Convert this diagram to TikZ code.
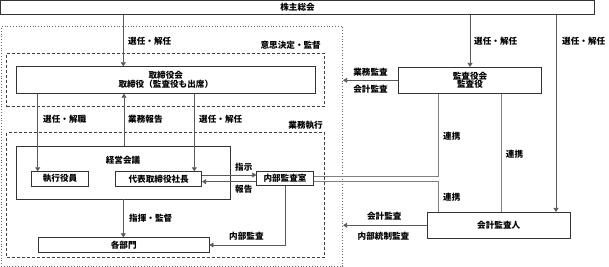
\documentclass[tikz,border=0pt]{standalone}
\usepackage{fontspec}
\setmainfont{Noto Sans CJK JP}
\usetikzlibrary{arrows.meta}
\newcommand{\fs}{\fontsize{8.6}{10}\selectfont\bfseries}
\begin{document}
\begin{tikzpicture}[x=1pt,y=-1pt,
  box/.style={draw=black!80, line width=0.8pt, inner sep=0pt, font=\fs, align=center},
  conn/.style={draw=black!65, line width=0.8pt},
  arr/.style={conn, -{Triangle[length=4pt,width=5pt]}},
  link/.style={draw=black!50, line width=0.8pt},
  lbl/.style={inner sep=0pt, font=\fs},
  dotbox/.style={draw=black!60, line width=0.8pt, dotted, inner sep=0pt},
  dashbox/.style={draw=black!75, line width=0.8pt, dash pattern=on 3pt off 2pt, inner sep=0pt}]
\useasboundingbox (0,0) rectangle (609,267);
% containers
\node[dotbox, minimum width=341.7pt, minimum height=239.3pt] (outer) at (171.85,146.35) {};
\node[dashbox, minimum width=317.6pt, minimum height=53.4pt] (ishi) at (165.5,80) {};
\node[dashbox, minimum width=317.6pt, minimum height=124.6pt] (gyomu) at (165.5,195) {};
% boxes
\node[box, minimum width=594pt, minimum height=14pt] (soukai) at (297.5,7.6) {株主総会};
\node[box, minimum width=298.3pt, minimum height=26.6pt] (torishimari) at (165.8,80) {取締役会\\[-1.5pt]取締役（監査役も出席）};
\node[box, minimum width=143.4pt, minimum height=26pt] (kansayaku) at (470,80.3) {監査役会\\[-1.5pt]監査役};
\node[box, minimum width=213.3pt, minimum height=53pt] (keiei) at (123.35,172.5) {};
\node[lbl] (keieilbl) at (123,160) {経営会議};
\node[box, minimum width=56.6pt, minimum height=14.3pt] (shikkou) at (60,178.8) {執行役員};
\node[box, minimum width=86pt, minimum height=14.3pt] (daihyo) at (158.7,178.8) {代表取締役社長};
\node[box, minimum width=56.6pt, minimum height=14pt] (naibu) at (285,178.7) {内部監査室};
\node[box, minimum width=170.7pt, minimum height=14.6pt] (kakubumon) at (123.7,245) {各部門};
\node[box, minimum width=142.7pt, minimum height=26pt] (kaikei) at (498.7,225.3) {会計監査人};
% helper coordinates
\coordinate (xa) at (123.3,0);
\coordinate (xk) at (556,0);
\coordinate (xs) at (37.7,0);
\coordinate (xg) at (124,0);
\coordinate (xd) at (194.3,0);
\coordinate (yi) at (0,175);
\coordinate (yh) at (0,181.7);
\coordinate (xr) at (438.5,0);
\coordinate (yr1) at (0,176);
\coordinate (yr2) at (0,181.7);
\coordinate (xr2) at (501,0);
% connectors
\draw[arr] (soukai.south -| xa) -- (torishimari.north -| xa);
\draw[arr] (soukai.south -| kansayaku.north) -- (kansayaku.north);
\draw[arr] (soukai.south -| xk) -- (kaikei.north -| xk);
\draw[arr] (kansayaku.west) -- (kansayaku.west -| outer.east);
\draw[arr] (kaikei.west) -- (kaikei.west -| outer.east);
\draw[arr] (torishimari.south -| xs) -- (shikkou.north -| xs);
\draw[arr] (keiei.north -| xg) -- (torishimari.south -| xg);
\draw[arr] (torishimari.south -| xd) -- (daihyo.north -| xd);
\draw[arr] (daihyo.east |- yi) -- (naibu.west |- yi);
\draw[arr] (naibu.west |- yh) -- (daihyo.east |- yh);
\draw[arr] (keiei.south -| xa) -- (kakubumon.north -| xa);
\draw[arr] (naibu.south) |- (kakubumon.east);
\draw[link] (kansayaku.south -| xr) -- (xr |- yr1) -- (naibu.east |- yr1);
\draw[link] (naibu.east |- yr2) -- (xr |- yr2) -- (kaikei.north -| xr);
\draw[link] (kansayaku.south -| xr2) -- (kaikei.north -| xr2);
% labels
\node[lbl, anchor=west] (l1) at (128,41.7) {選任・解任};
\node[lbl, anchor=west] (l2) at (474,41.7) {選任・解任};
\node[lbl, anchor=west] (l3) at (562,41.7) {選任・解任};
\node[lbl, anchor=east] (l4) at (321,45) {意思決定・監督};
\node[lbl] (l5) at (370.5,72.3) {業務監査};
\node[lbl] (l6) at (370.5,89) {会計監査};
\node[lbl, anchor=west] (l7) at (43,119.3) {選任・解職};
\node[lbl, anchor=west] (l8) at (128,119.3) {業務報告};
\node[lbl, anchor=west] (l9) at (199,119.3) {選任・解任};
\node[lbl, anchor=east] (l10) at (323,125.7) {業務執行};
\node[lbl, anchor=west] (l11) at (443,136) {連携};
\node[lbl, anchor=west] (l12) at (505.7,154.3) {連携};
\node[lbl, anchor=west] (l13) at (235,167.7) {指示};
\node[lbl, anchor=west] (l14) at (235,189.3) {報告};
\node[lbl, anchor=west] (l15) at (443,197.7) {連携};
\node[lbl] (l16) at (384.3,216.7) {会計監査};
\node[lbl] (l17) at (383.5,236.7) {内部統制監査};
\node[lbl, anchor=west] (l18) at (129,218.3) {指揮・監督};
\node[lbl, anchor=west] (l19) at (229,236.7) {内部監査};
\end{tikzpicture}
\end{document}
